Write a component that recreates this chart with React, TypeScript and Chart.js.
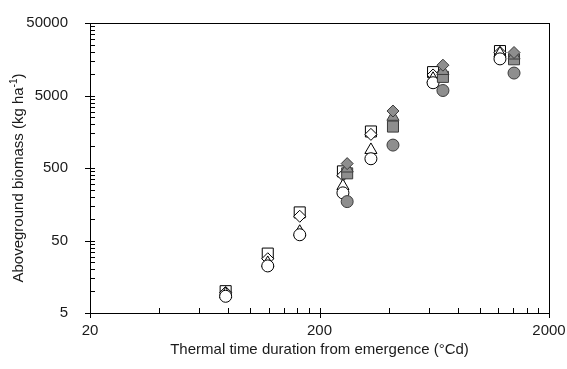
import React, { useEffect, useRef } from "react";
import { Chart, registerables } from "chart.js";

Chart.register(...registerables);

// ---- data ----
const openX = [78, 119, 164, 253, 335, 625, 1223];
const openSquare = [10, 33, 122, 449, 1595, 10500, 20500];
const openDiamond = [9.6, 28, 108, 396, 1455, 9600, 19600];
const openTriangle = [9.1, 24.5, 66, 282, 887, 8500, 19000];
const openCircle = [8.5, 22.3, 60, 227, 671, 7500, 16000];

const grayX = [264, 418, 690, 1408];
const grayDiamond = [575, 3055, 13100, 19600];
const grayTriangle = [492, 2540, 10900, 17800];
const graySquare = [422, 1864, 9030, 15800];
const grayCircle = [172, 1035, 5860, 10200];

const xTicks = [20, 200, 2000];
const yTicks = [5, 50, 500, 5000, 50000];

const xTitle = "Thermal time duration from emergence (°Cd)";
const yTitleMain = "Aboveground biomass (kg ha";
const yTitleSup = "-1";
const yTitleEnd = ")";

const FONT = "'Liberation Sans', Arial, sans-serif";
const TEXT = "#1a1a1a";
const GRAY_FILL = "#8e8e8e";
const GRAY_EDGE = "#3a3a3a";

const pts = (xs: number[], ys: number[]) => xs.map((x, i) => ({ x, y: ys[i] }));

const framePlugin = {
  id: "frame",
  beforeDatasetsDraw(chart: any) {
    const { ctx, chartArea: a, scales } = chart;
    const sx = scales.x;
    const sy = scales.y;
    ctx.save();
    ctx.strokeStyle = "#000";
    ctx.lineWidth = 1;
    ctx.strokeRect(a.left + 0.5, a.top + 0.5, a.right - a.left, a.bottom - a.top);
    ctx.beginPath();
    // x ticks
    for (let d = 0; d < xTicks.length; d++) {
      const base = xTicks[d];
      const px = Math.round(sx.getPixelForValue(base)) + 0.5;
      ctx.moveTo(px, a.bottom - 5);
      ctx.lineTo(px, a.bottom + 5);
      if (d < xTicks.length - 1) {
        for (let k = 2; k <= 9; k++) {
          const mx = Math.round(sx.getPixelForValue(base * k)) + 0.5;
          ctx.moveTo(mx, a.bottom - 5);
          ctx.lineTo(mx, a.bottom);
        }
      }
    }
    // y ticks
    for (let d = 0; d < yTicks.length; d++) {
      const base = yTicks[d];
      const py = Math.round(sy.getPixelForValue(base)) + 0.5;
      ctx.moveTo(a.left - 5, py);
      ctx.lineTo(a.left + 5, py);
      if (d < yTicks.length - 1) {
        for (let k = 2; k <= 9; k++) {
          const my = Math.round(sy.getPixelForValue(base * k)) + 0.5;
          ctx.moveTo(a.left, my);
          ctx.lineTo(a.left + 5, my);
        }
      }
    }
    ctx.stroke();
    ctx.restore();
  },
  afterDraw(chart: any) {
    const { ctx } = chart;
    ctx.save();
    ctx.fillStyle = TEXT;
    ctx.textBaseline = "middle";
    ctx.textAlign = "left";
    const big = `15px ${FONT}`;
    const small = `10px ${FONT}`;
    ctx.font = big;
    const w1 = ctx.measureText(yTitleMain).width;
    const w3 = ctx.measureText(yTitleEnd).width;
    ctx.font = small;
    const w2 = ctx.measureText(yTitleSup).width;
    const total = w1 + w2 + w3;
    ctx.translate(19, 178);
    ctx.rotate(-Math.PI / 2);
    let x0 = -total / 2;
    ctx.font = big;
    ctx.fillText(yTitleMain, x0, 0);
    x0 += w1;
    ctx.font = small;
    ctx.fillText(yTitleSup, x0, -5);
    x0 += w2;
    ctx.font = big;
    ctx.fillText(yTitleEnd, x0, 0);
    ctx.restore();
  },
};

export default function App() {
  const ref = useRef<HTMLCanvasElement | null>(null);

  useEffect(() => {
    if (!ref.current) return;
    const open = (label: string, data: number[], style: string, r: number) => ({
      label,
      data: pts(openX, data),
      pointStyle: style,
      pointRadius: r,
      pointHoverRadius: r,
      backgroundColor: "#ffffff",
      borderColor: "#000000",
      borderWidth: 1,
      showLine: false,
    });
    const gray = (label: string, data: number[], style: string, r: number) => ({
      label,
      data: pts(grayX, data),
      pointStyle: style,
      pointRadius: r,
      pointHoverRadius: r,
      backgroundColor: GRAY_FILL,
      borderColor: GRAY_EDGE,
      borderWidth: 1,
      showLine: false,
    });
    // first dataset is drawn on top
    const datasets = [
      gray("gray diamond", grayDiamond, "rectRot", 6),
      gray("gray triangle", grayTriangle, "triangle", 7),
      gray("gray square", graySquare, "rect", 7.8),
      gray("gray circle", grayCircle, "circle", 6),
      open("open circle", openCircle, "circle", 6),
      open("open triangle", openTriangle, "triangle", 7),
      open("open diamond", openDiamond, "rectRot", 6),
      open("open square", openSquare, "rect", 7.8),
    ];

    const chart = new Chart(ref.current, {
      type: "scatter",
      data: { datasets } as any,
      plugins: [framePlugin],
      options: {
        animation: false,
        responsive: false,
        maintainAspectRatio: false,
        layout: { padding: { top: 15, right: 18, bottom: 0, left: 0 } },
        plugins: { legend: { display: false }, tooltip: { enabled: false } },
        scales: {
          x: {
            type: "logarithmic",
            min: 20,
            max: 2000,
            afterFit: (s: any) => {
              s.height = 56;
            },
            afterBuildTicks: (s: any) => {
              s.ticks = xTicks.map((v) => ({ value: v }));
            },
            grid: { display: false },
            border: { display: false },
            ticks: {
              autoSkip: false,
              maxRotation: 0,
              padding: 1,
              color: TEXT,
              font: { family: FONT, size: 15 },
              callback: (v: any) => String(v),
            },
            title: {
              display: true,
              text: xTitle,
              color: TEXT,
              font: { family: FONT, size: 15 },
              padding: { top: 0, bottom: 10 },
            },
          },
          y: {
            type: "logarithmic",
            min: 5,
            max: 50000,
            afterFit: (s: any) => {
              s.width = 90;
            },
            afterBuildTicks: (s: any) => {
              s.ticks = yTicks.map((v) => ({ value: v }));
            },
            grid: { display: false },
            border: { display: false },
            ticks: {
              autoSkip: false,
              padding: 14,
              color: TEXT,
              font: { family: FONT, size: 15 },
              callback: (v: any) => String(v),
            },
          },
        },
      },
    } as any);
    return () => chart.destroy();
  }, []);

  return (
    <div style={{ position: "absolute", left: 0, top: 0, width: 567, height: 369, background: "#fff" }}>
      <canvas ref={ref} width={567} height={369} />
    </div>
  );
}
